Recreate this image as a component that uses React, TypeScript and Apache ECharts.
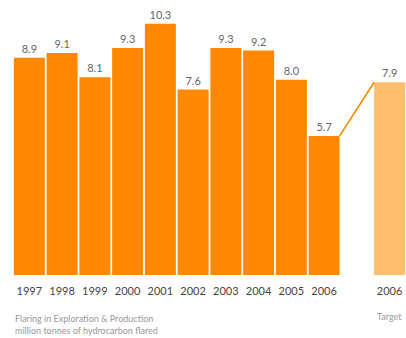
import React, { useEffect, useRef } from "react";
import * as echarts from "echarts";

const categories = ["1997", "1998", "1999", "2000", "2001", "2002", "2003", "2004", "2005", "2006", "", "2006"];
const flaring = [8.9, 9.1, 8.1, 9.3, 10.3, 7.6, 9.3, 9.2, 8.0, 5.7, null, null];
const target = [null, null, null, null, null, null, null, null, null, null, null, 7.9];
const connector = [[9, 5.7, 11, 7.9]];

const FONT = "Lato, 'Open Sans', sans-serif";
const BAR_W = 31;

export default function App() {
  const ref = useRef<HTMLDivElement>(null);
  useEffect(() => {
    const chart = echarts.init(ref.current!, null, { renderer: "svg" });
    const labelCfg = {
      show: true,
      position: "top" as const,
      distance: 4,
      color: "#666",
      fontSize: 11,
      fontFamily: FONT,
      formatter: (p: any) => (p.value == null ? "" : Number(p.value).toFixed(1)),
    };
    chart.setOption({
      animation: false,
      backgroundColor: "#fff",
      grid: { left: 13, top: 6.6, width: 396, height: 268.4, containLabel: false },
      xAxis: {
        type: "category",
        data: categories,
        axisLine: { show: false },
        axisTick: { show: false },
        axisLabel: { color: "#444", fontSize: 11, fontFamily: FONT, margin: 10, interval: 0 },
      },
      yAxis: {
        type: "value",
        min: 0,
        max: 11,
        show: false,
        splitLine: { show: false },
      },
      graphic: [
        {
          type: "text",
          left: 15,
          top: 312,
          style: {
            text: "Flaring in Exploration & Production\nmillion tonnes of hydrocarbon flared",
            fill: "#999",
            fontSize: 9,
            fontFamily: FONT,
            lineHeight: 12,
          },
        },
        {
          type: "text",
          left: 377,
          top: 312,
          style: { text: "Target", fill: "#999", fontSize: 9, fontFamily: FONT },
        },
      ],
      series: [
        {
          type: "bar",
          data: flaring,
          barWidth: BAR_W,
          barGap: "-100%",
          itemStyle: { color: "#FF8800" },
          label: labelCfg,
        },
        {
          type: "bar",
          data: target,
          barWidth: BAR_W,
          itemStyle: { color: "#FDBE6E" },
          label: labelCfg,
        },
        {
          type: "custom",
          data: connector,
          z: 5,
          renderItem: (params: any, api: any) => {
            const p1 = api.coord([api.value(0), api.value(1)]);
            const p2 = api.coord([api.value(2), api.value(3)]);
            return {
              type: "line",
              shape: { x1: p1[0] + BAR_W / 2, y1: p1[1], x2: p2[0] - BAR_W / 2, y2: p2[1] },
              style: { stroke: "#FF8800", lineWidth: 1.6 },
            };
          },
        },
      ],
    });
    return () => chart.dispose();
  }, []);
  return <div ref={ref} style={{ position: "fixed", left: 0, top: 0, width: 406, height: 338 }} />;
}
